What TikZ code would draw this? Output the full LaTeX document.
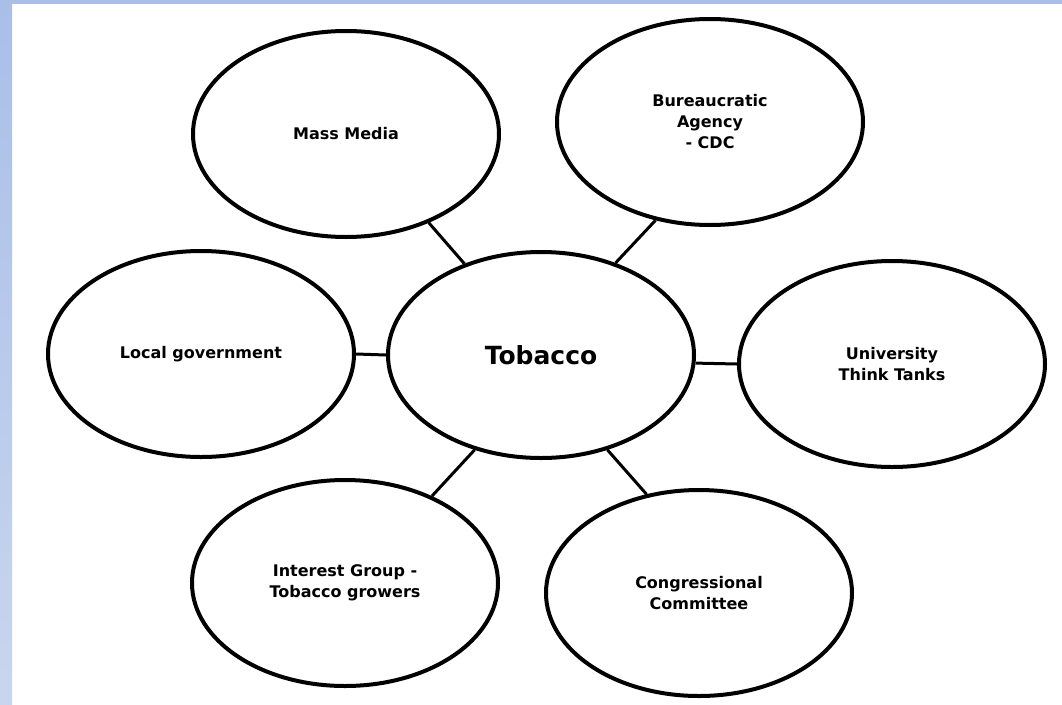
\documentclass[tikz,border=0pt]{standalone}
\usepackage{fontspec}
\setmainfont{DejaVu Sans}
\usetikzlibrary{shapes.geometric}
\definecolor{bandtop}{HTML}{A9BFE8}
\definecolor{bandbot}{HTML}{C7D6F0}
\begin{document}
\begin{tikzpicture}[x=1pt,y=-1pt,
  bubble/.style={ellipse,draw=black,fill=white,line width=4pt,minimum width=306pt,minimum height=206pt,
    align=center,inner sep=0pt,font=\fontsize{16}{21}\selectfont\bfseries},
  link/.style={line width=3pt}]
\useasboundingbox (0,0) rectangle (1062,704);
\fill[white] (0,0) rectangle (1062,704);
\shade[top color=bandtop,bottom color=bandbot] (0,0) rectangle (12,704);
\fill[bandtop] (0,0) rectangle (1062,4);

\node[bubble,font=\fontsize{25}{30}\selectfont\bfseries] (tob) at (541,355) {Tobacco};
\node[bubble] (mm)  at (346,134) {Mass Media};
\node[bubble] (bur) at (710,122) {Bureaucratic\\Agency\\- CDC};
\node[bubble] (loc) at (201,354) {Local government};
\node[bubble] (uni) at (892,364) {University\\Think Tanks};
\node[bubble] (int) at (345,583) {Interest Group -\\Tobacco growers};
\node[bubble] (con) at (699,593) {Congressional\\Committee};

\draw[link] (tob.130) -- (mm.313);
\draw[link] (tob.51) -- (bur.241);
\draw[link] (tob.west) -- (loc.east);
\draw[link] (tob.-3.3) -- (uni.west);
\draw[link] (tob.235) -- (int.45);
\draw[link] (tob.305) -- (con.118);
\end{tikzpicture}
\end{document}
